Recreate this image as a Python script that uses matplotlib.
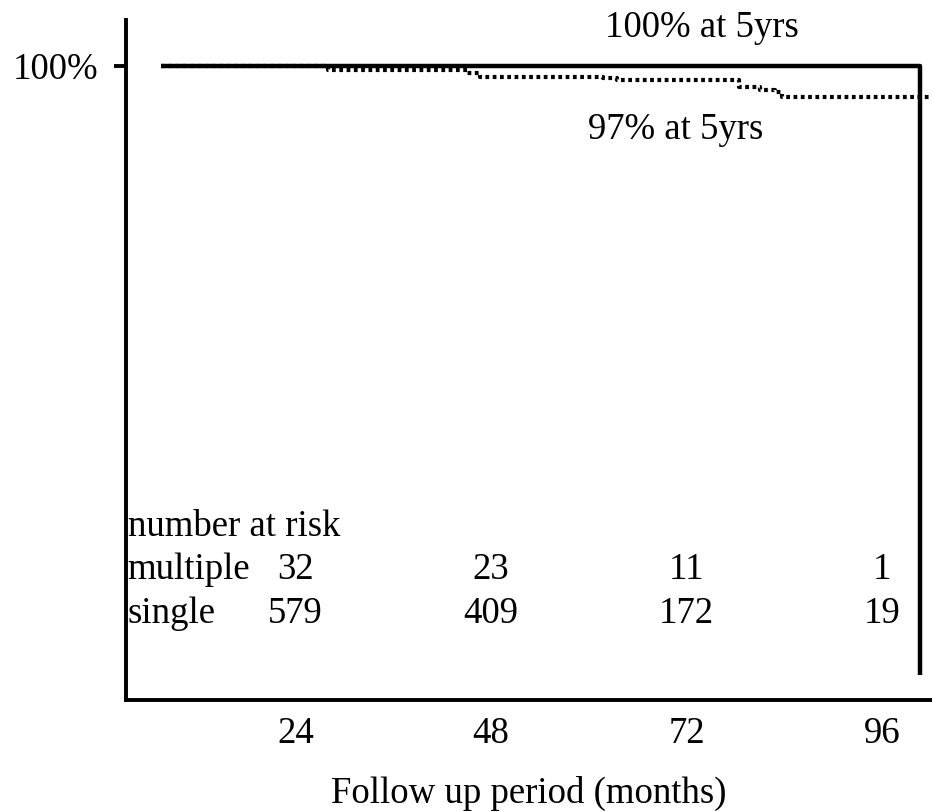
import matplotlib
matplotlib.use("Agg")
import matplotlib.pyplot as plt

# ---- data ----
single_t = [7.5, 100.6, 100.6]          # months (solid curve: "100% at 5yrs")
single_s = [100.0, 0.0, 0.0]
multi_t = [7.5, 28.0, 45.0, 46.6, 61.7, 63.4, 78.4, 81.0, 82.8, 83.7, 102.5]
multi_s = [100.0, 99.34, 98.85, 98.2, 97.95, 97.7, 96.55, 96.06, 95.7, 94.9, 94.9]
xticks = [24, 48, 72, 96]
xtick_labels = ["24", "48", "72", "96"]
risk_rows = ["multiple", "single"]
risk_multiple = ["32", "23", "11", "1"]
risk_single = ["579", "409", "172", "19"]

plt.rcParams['font.family'] = ['Liberation Serif', 'DejaVu Serif']
FS = 26.5

fig = plt.figure(figsize=(9.32, 8.11), dpi=100)
ax = fig.add_axes([126/932, 111/811, 806/932, 680/811])

ax.plot(single_t, single_s, drawstyle='steps-post', color='black', lw=3.2,
        solid_capstyle='butt')
ax.plot(multi_t, multi_s, drawstyle='steps-post', color='black', lw=3.0,
        linestyle=(0, (0.9, 0.85)))

ax.set_xlim(3.19, 102.1)
ax.set_ylim(-4.1, 107.55)

for s in ['top', 'right']:
    ax.spines[s].set_visible(False)
for s in ['left', 'bottom']:
    ax.spines[s].set_linewidth(2.8)

ax.set_xticks(xticks)
ax.set_xticklabels(xtick_labels, fontsize=FS)
ax.tick_params(axis='x', length=0, pad=12)
ax.set_yticks([100])
ax.set_yticklabels(["100%"], fontsize=FS)
ax.tick_params(axis='y', length=9, width=2.8, pad=11)

ax.set_xlabel("Follow up period (months)", fontsize=FS, labelpad=18)

ax.text(73.9, 106.2, "100% at 5yrs", fontsize=FS, ha='center', va='center')
ax.text(70.7, 89.5, "97% at 5yrs", fontsize=FS, ha='center', va='center')

ax.text(3.4, 24.3, "number at risk", fontsize=FS, ha='left', va='center')
ax.text(3.4, 17.3, risk_rows[0], fontsize=FS, ha='left', va='center')
ax.text(3.4, 10.1, risk_rows[1], fontsize=FS, ha='left', va='center')
for x, a, b in zip(xticks, risk_multiple, risk_single):
    ax.text(x, 17.3, a, fontsize=FS, ha='center', va='center')
    ax.text(x, 10.1, b, fontsize=FS, ha='center', va='center')

fig.savefig("out.png", dpi=100)
